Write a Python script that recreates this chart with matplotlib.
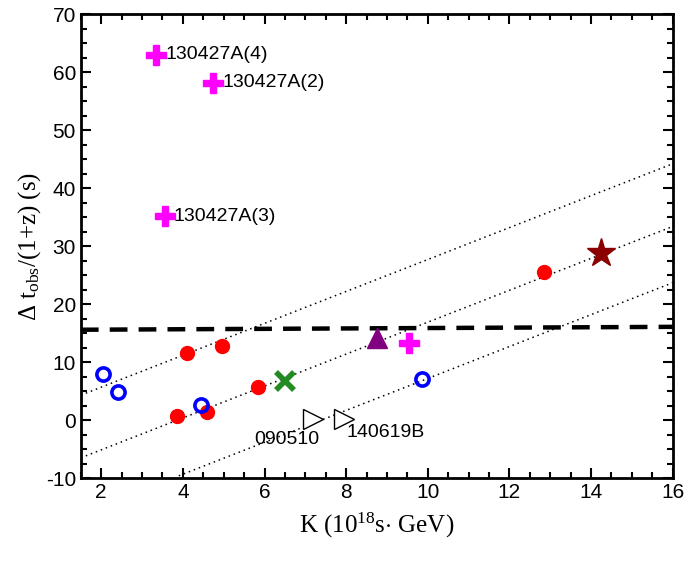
import numpy as np
import matplotlib.pyplot as plt
from matplotlib.ticker import MultipleLocator

plt.rcParams["axes.unicode_minus"] = False
plt.rcParams["mathtext.fontset"] = "custom"
plt.rcParams["mathtext.rm"] = "Liberation Serif"
plt.rcParams["mathtext.it"] = "Liberation Serif:italic"

# dados
k_plus = [3.35, 4.75, 3.55, 9.55]
t_plus = [63.0, 58.2, 35.2, 13.4]
lbl_plus = ["130427A(4)", "130427A(2)", "130427A(3)", ""]

k_red = [4.1, 4.95, 5.85, 3.85, 4.6, 12.85]
t_red = [11.6, 12.8, 5.8, 0.7, 1.5, 25.6]

k_blue = [2.05, 2.4, 4.45, 9.85]
t_blue = [7.9, 4.8, 2.7, 7.1]

k_green, t_green = [6.5], [6.7]
k_tri, t_tri = [8.75], [14.2]
k_star, t_star = [14.25], [28.9]

k_open = [7.2, 7.95]
t_open = [0.2, 0.2]
lbl_open = ["090510", "140619B"]

# retas pontilhadas: y = a*K + b
slope = 2.75
intercepts = [0.2, -10.6, -20.3]
k_start = [1.5, 1.5, 3.9]

# linha tracejada
k_dash = [1.5, 16.0]
t_dash = [15.6, 16.1]

fig = plt.figure(figsize=(6.85, 5.64), dpi=100)
ax = fig.add_axes([0.118, 0.152, 0.864, 0.823])

for b, k0 in zip(intercepts, k_start):
    kk = np.array([k0, 16.0])
    ax.plot(kk, slope*kk + b, color="black", ls=(0, (1, 2.5)), lw=1.1, zorder=1)

ax.plot(k_dash, t_dash, color="black", ls=(0, (4, 2.5)), lw=3.2, zorder=2)

ax.plot(k_plus, t_plus, ls="none", marker="P", ms=15, color="#ff00ff", mec="#ff00ff", zorder=3)
ax.plot(k_red, t_red, ls="none", marker="o", ms=10, color="red", zorder=3)
ax.plot(k_blue, t_blue, ls="none", marker="o", ms=9.5, mfc="none", mec="blue", mew=2.6, zorder=3)
ax.plot(k_green, t_green, ls="none", marker="x", ms=13, mec="#228b22", mew=4, zorder=3)
ax.plot(k_tri, t_tri, ls="none", marker="^", ms=15, color="#800080", zorder=3)
ax.plot(k_star, t_star, ls="none", marker="*", ms=21, color="#8b0000", zorder=3)
ax.plot(k_open, t_open, ls="none", marker=">", ms=14, mfc="white", mec="black", mew=1.0, zorder=3)

for k, t, s in zip(k_plus, t_plus, lbl_plus):
    if s:
        ax.text(k + 0.22, t, s, fontsize=14, family="Liberation Sans", va="center", ha="left")
ax.text(k_open[0] + 0.15, t_open[0] - 2.0, lbl_open[0], fontsize=14, family="Liberation Sans",
        va="top", ha="right")
ax.text(k_open[1] + 0.05, t_open[1] - 0.8, lbl_open[1], fontsize=14, family="Liberation Sans",
        va="top", ha="left")

ax.set_xlim(1.5, 16)
ax.set_ylim(-10, 70)
ax.xaxis.set_major_locator(MultipleLocator(2))
ax.xaxis.set_minor_locator(MultipleLocator(0.5))
ax.yaxis.set_major_locator(MultipleLocator(10))
ax.yaxis.set_minor_locator(MultipleLocator(2.5))
ax.tick_params(which="both", direction="in", top=True, right=True, width=1.5)
ax.tick_params(which="major", length=7, labelsize=15)
ax.tick_params(which="minor", length=4)
for lab in ax.get_xticklabels() + ax.get_yticklabels():
    lab.set_family("Liberation Sans")
for sp in ax.spines.values():
    sp.set_linewidth(2)

ax.set_xlabel(r"K (10$^{18}$s$\cdot$ GeV)", fontsize=18, family="Liberation Serif",
              labelpad=6)
ax.set_ylabel(r"$\Delta$ t$_{\rm obs}$/(1+z) (s)", fontsize=18, family="Liberation Serif",
              labelpad=2)

fig.savefig("out.png", dpi=100)
